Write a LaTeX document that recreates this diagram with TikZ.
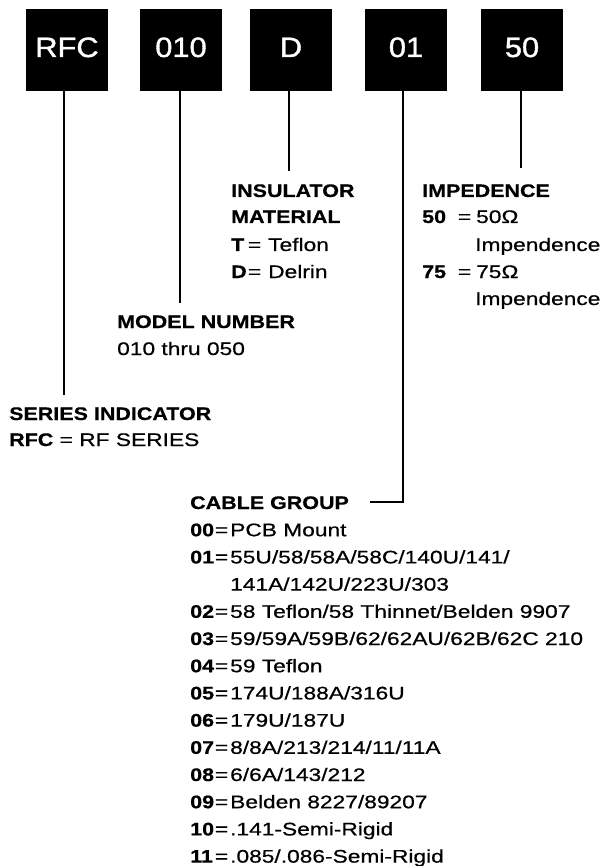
\documentclass[tikz,border=0pt]{standalone}
\usepackage{fontspec}
\setmainfont{Liberation Sans}[UprightFeatures={FakeStretch=1.25,FakeBold=0.6},BoldFeatures={FakeStretch=1.18,FakeBold=0.6}]
\newfontfamily\boxfont{Liberation Sans}[FakeStretch=1.1,FakeBold=1.3]
\newcommand{\kv}[4]{\rlap{\bfseries #2}\makebox[#1][r]{=\hspace{#3}}#4}
\begin{document}
\begin{tikzpicture}[x=1pt,y=-1pt,
  lbl/.style={anchor=base west, inner sep=0pt, font=\fontsize{18.2}{27}\selectfont},
  head/.style={lbl, font=\fontsize{18.2}{27}\selectfont\bfseries},
  code/.style={fill=black, text=white, minimum width=82pt, minimum height=82pt,
    inner sep=0pt, text height=20pt, text depth=6pt,
    font=\boxfont\fontsize{28}{30}\selectfont},
  wire/.style={line width=2pt}]
\useasboundingbox (0,0) rectangle (602,866);

% code boxes
\node[code] (rfc)   at (67,50)  {RFC};
\node[code] (model) at (181,50) {010};
\node[code] (ins)   at (291,50) {D};
\node[code] (grp)   at (406,50) {01};
\node[code] (imp)   at (522,50) {50};

% series indicator
\node[head] (serH) at (9,420) {SERIES INDICATOR};
\node[lbl]  (serV) at (9,446) {\textbf{RFC} = RF SERIES};

% model number
\node[head] (modH) at (117,328) {MODEL NUMBER};
\node[lbl]  (modV) at (117,355) {010 thru 050};

% insulator material
\node[head] (insH1) at (231,197) {INSULATOR};
\node[head] (insH2) at (231,223) {MATERIAL};
\node[lbl]  (insT)  at (231,251) {\kv{37pt}{T}{7pt}{Teflon}};
\node[lbl]  (insD)  at (231,278) {\kv{37pt}{D}{7pt}{Delrin}};

% impedence
\node[head] (impH)   at (422,197) {IMPEDENCE};
\node[lbl]  (imp50)  at (422,223) {\kv{54pt}{50}{5pt}{50Ω}};
\node[lbl]  (imp50b) at (475,251) {Impendence};
\node[lbl]  (imp75)  at (422,278) {\kv{54pt}{75}{5pt}{75Ω}};
\node[lbl]  (imp75b) at (475,305) {Impendence};

% cable group
\node[head] (cgH) at (190,509) {CABLE GROUP};
\node[lbl] (c00)  at (190,536.2) {\kv{40pt}{00}{2pt}{PCB Mount}};
\node[lbl] (c01)  at (190,563.4) {\kv{40pt}{01}{2pt}{55U/58/58A/58C/140U/141/}};
\node[lbl] (c01b) at (230,590.6) {141A/142U/223U/303};
\node[lbl] (c02)  at (190,617.8) {\kv{40pt}{02}{2pt}{58 Teflon/58 Thinnet/Belden 9907}};
\node[lbl] (c03)  at (190,645.0) {\kv{40pt}{03}{2pt}{59/59A/59B/62/62AU/62B/62C 210}};
\node[lbl] (c04)  at (190,672.2) {\kv{40pt}{04}{2pt}{59 Teflon}};
\node[lbl] (c05)  at (190,699.4) {\kv{40pt}{05}{2pt}{174U/188A/316U}};
\node[lbl] (c06)  at (190,726.6) {\kv{40pt}{06}{2pt}{179U/187U}};
\node[lbl] (c07)  at (190,753.8) {\kv{40pt}{07}{2pt}{8/8A/213/214/11/11A}};
\node[lbl] (c08)  at (190,781.0) {\kv{40pt}{08}{2pt}{6/6A/143/212}};
\node[lbl] (c09)  at (190,808.2) {\kv{40pt}{09}{2pt}{Belden 8227/89207}};
\node[lbl] (c10)  at (190,835.4) {\kv{40pt}{10}{2pt}{.141-Semi-Rigid}};
\node[lbl] (c11)  at (190,862.6) {\kv{40pt}{11}{2pt}{.085/.086-Semi-Rigid}};

% connector ends
\coordinate (e1)  at (64,395);
\coordinate (e2)  at (180,303);
\coordinate (e3)  at (289,171);
\coordinate (e4a) at (403,502);
\coordinate (e4b) at (370,502);
\coordinate (e5)  at (521,168);

\draw[wire] (rfc.south -| e1) -- (e1);
\draw[wire] (model.south -| e2) -- (e2);
\draw[wire] (ins.south -| e3) -- (e3);
\draw[wire] (grp.south -| e4a) -- (e4a) -- (e4b);
\draw[wire] (imp.south -| e5) -- (e5);
\end{tikzpicture}
\end{document}
